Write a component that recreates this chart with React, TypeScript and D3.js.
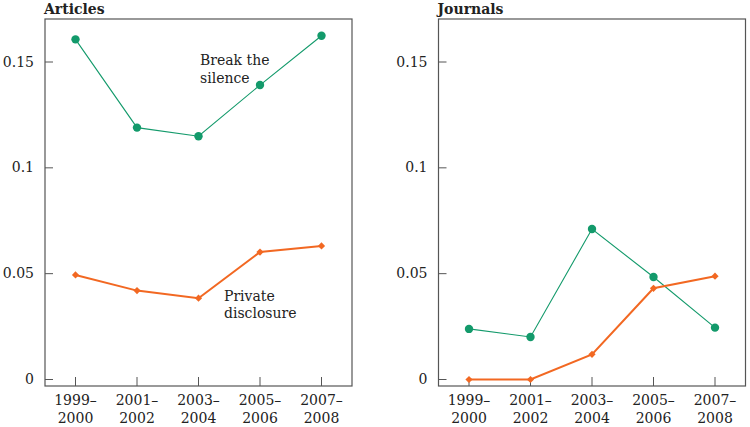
import React from "react";
import * as d3 from "d3";

const periods = ["1999–2000", "2001–2002", "2003–2004", "2005–2006", "2007–2008"];
const yTicks = [0, 0.05, 0.1, 0.15];
const yTickLabels = ["0", "0.05", "0.1", "0.15"];

const articlesBreak = [0.1607, 0.119, 0.1149, 0.1391, 0.1624];
const articlesPrivate = [0.0494, 0.042, 0.0384, 0.0602, 0.0631];
const journalsBreak = [0.0239, 0.0201, 0.0711, 0.0484, 0.0245];
const journalsPrivate = [0, 0, 0.0119, 0.0431, 0.0488];

const GREEN = "#139a6b";
const ORANGE = "#f26822";
const AXIS = "#555555";
const FONT = "'DejaVu Serif', serif";

type PanelProps = {
  left: number;
  title: string;
  breakVals: number[];
  privVals: number[];
  labels?: boolean;
};

const top = 19;
const bottom = 386;
const width = 307;

const y = d3.scaleLinear().domain([0, 0.15]).range([379.5, 62]);

function Panel({ left, title, breakVals, privVals, labels }: PanelProps) {
  const x = d3
    .scalePoint<string>()
    .domain(periods)
    .range([left + 30.5, left + width - 30.5]);
  const line = d3
    .line<number>()
    .x((_, i) => x(periods[i]) as number)
    .y((d) => y(d));
  const diamond = d3.symbol().type(d3.symbolSquare).size(26)();
  return (
    <g>
      <text x={left - 1} y={14} fontFamily={FONT} fontWeight="bold" fontSize={14} fill="#222">
        {title}
      </text>
      <rect x={left} y={top} width={width} height={bottom - top} fill="none" stroke={AXIS} strokeWidth={1.2} />
      {yTicks.map((t, i) => (
        <g key={t}>
          <line x1={left} x2={left + 8} y1={y(t)} y2={y(t)} stroke={AXIS} strokeWidth={1} />
          <text
            x={left - 11}
            y={y(t) + 4.5}
            textAnchor="end"
            fontFamily={FONT}
            fontSize={14}
            fill="#222"
          >
            {yTickLabels[i]}
          </text>
        </g>
      ))}
      {periods.map((p) => {
        const [a, b] = p.split("–");
        return (
          <g key={p}>
            <line x1={x(p)} x2={x(p)} y1={bottom} y2={bottom - 9} stroke={AXIS} strokeWidth={1} />
            <text x={x(p)} y={405} textAnchor="middle" fontFamily={FONT} fontSize={14} fill="#222">
              {a + "–"}
            </text>
            <text x={x(p)} y={423} textAnchor="middle" fontFamily={FONT} fontSize={14} fill="#222">
              {b}
            </text>
          </g>
        );
      })}
      <path d={line(breakVals) || ""} fill="none" stroke={GREEN} strokeWidth={1.1} />
      {breakVals.map((v, i) => (
        <circle key={i} cx={x(periods[i])} cy={y(v)} r={4.2} fill={GREEN} />
      ))}
      <path d={line(privVals) || ""} fill="none" stroke={ORANGE} strokeWidth={2} />
      {privVals.map((v, i) => (
        <path
          key={i}
          d={diamond || ""}
          transform={`translate(${x(periods[i])},${y(v)}) rotate(45)`}
          fill={ORANGE}
        />
      ))}
      {labels && (
        <g fontFamily={FONT} fontSize={14} fill="#222">
          <text x={left + 155} y={65}>Break the</text>
          <text x={left + 155} y={82.5}>silence</text>
          <text x={left + 179} y={300.5}>Private</text>
          <text x={left + 179} y={318}>disclosure</text>
        </g>
      )}
    </g>
  );
}

export default function App() {
  return (
    <svg
      width={750}
      height={427}
      style={{ position: "absolute", left: 0, top: 0, background: "#fff" }}
    >
      <Panel left={45} title="Articles" breakVals={articlesBreak} privVals={articlesPrivate} labels />
      <Panel left={438.5} title="Journals" breakVals={journalsBreak} privVals={journalsPrivate} />
    </svg>
  );
}
